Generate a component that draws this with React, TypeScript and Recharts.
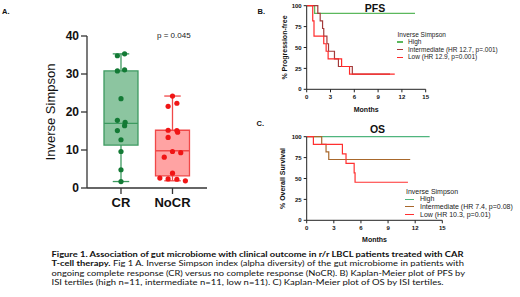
import React from 'react';
import {
  ScatterChart,
  Scatter,
  LineChart,
  Line,
  XAxis,
  YAxis,
  ReferenceArea,
  ReferenceLine,
  Legend,
  Label,
} from 'recharts';

const FONT = '"Liberation Sans", Arial, sans-serif';
const CAPTION_FONT = 'Lato, "Open Sans", sans-serif';

// ---- panel A: inverse Simpson by response ----
const groups = ['CR', 'NoCR'];
const crValues = [35.3, 34.8, 31.1, 30.8, 23.5, 17.8, 17.3, 16.4, 15.1, 12.7, 9.6, 4.8, 1.7];
const crJitter = [0.07, -0.07, 0.07, -0.07, 0, -0.07, 0.08, 0.07, -0.07, 0, 0, 0, 0];
const noCrValues = [24.2, 22.3, 21.5, 15.2, 15.1, 14.7, 13.3, 9.6, 9.3, 8.1, 3.9, 2.6, 2.4, 2.3, 1.9];
const noCrJitter = [0, 0.085, -0.085, -0.085, 0.085, 0.1, -0.085, 0, 0.16, -0.16, 0, -0.245, -0.085, 0.085, 0.25];
// min, q1, median, q3, max
const crBox = [1.7, 11.3, 17.0, 30.8, 35.3];
const noCrBox = [1.9, 3.2, 9.8, 15.2, 24.2];
const simpsonTicks = [0, 10, 20, 30, 40];
const pValue = 'p = 0.045';

// ---- panels B/C: Kaplan-Meier ----
const months = [0, 3, 6, 9, 12, 15];
const pctTicks = [0, 25, 50, 75, 100];
const legendTitle = 'Inverse Simpson';

const pfsHighT = [0, 1.0, 13.65];
const pfsHighS = [100, 90.9, 90.9];
const pfsMidT = [0, 1.4, 1.7, 2.0, 2.15, 2.55, 2.75, 3.5, 4.0, 5.75, 10.5];
const pfsMidS = [100, 90.9, 81.8, 72.7, 63.6, 54.5, 45.5, 36.4, 27.3, 18.2, 18.2];
const pfsLowT = [0, 0.76, 0.92, 2.15, 2.45, 2.7, 4.4, 5.4, 11.1];
const pfsLowS = [100, 81.8, 63.6, 54.5, 45.5, 36.4, 27.3, 18.2, 18.2];
const pfsNames = ['High', 'Intermediate (HR 12.7, p=.001)', 'Low (HR 12.9, p=0.001)'];

const osHighT = [0, 13.6];
const osHighS = [100, 100];
const osMidT = [0, 1.66, 2.14, 2.44, 11.45];
const osMidS = [100, 90.9, 81.8, 72.7, 72.7];
const osLowT = [0, 0.74, 3.95, 4.35, 5.25, 5.35, 11.2];
const osLowS = [100, 90.9, 79.5, 68.2, 56.8, 45.5, 45.5];
const osNames = ['High', 'Intermediate (HR 7.4, p=0.08)', 'Low (HR 10.3, p=0.01)'];

const captionLine1 =
  'Figure 1. Association of gut microbiome with clinical outcome in r/r LBCL patients treated with CAR';
const captionLine2Bold = 'T-cell therapy.';
const captionLine2 = ' Fig 1 A. Inverse Simpson index (alpha diversity) of the gut microbiome in patients with';
const captionLine3 =
  'ongoing complete response (CR) versus no complete response (NoCR). B) Kaplan-Meier plot of PFS by';
const captionLine4 =
  'ISI tertiles (high n=11, intermediate n=11, low n=11). C) Kaplan-Meier plot of OS by ISI tertiles.';

const zip = (t: number[], s: number[]) => t.map((v, i) => ({ t: v, s: s[i] }));
const points = (pos: number, vals: number[], jit: number[]) =>
  vals.map((y, i) => ({ x: pos + jit[i], y }));

const BOX_HALF = 0.33;
const CAP_HALF = 0.16;

function BoxMarks({ pos, box, fill, stroke }: { pos: number; box: number[]; fill: string; stroke: string }) {
  const [lo, q1, med, q3, hi] = box;
  return [
    <ReferenceArea
      key="box"
      x1={pos - BOX_HALF}
      x2={pos + BOX_HALF}
      y1={q1}
      y2={q3}
      fill={fill}
      fillOpacity={1}
      stroke={stroke}
      strokeWidth={1.3}
    />,
    <ReferenceLine key="med" segment={[{ x: pos - BOX_HALF, y: med }, { x: pos + BOX_HALF, y: med }]} stroke={stroke} strokeWidth={1.3} />,
    <ReferenceLine key="wu" segment={[{ x: pos, y: q3 }, { x: pos, y: hi }]} stroke={stroke} strokeWidth={1.3} />,
    <ReferenceLine key="wl" segment={[{ x: pos, y: lo }, { x: pos, y: q1 }]} stroke={stroke} strokeWidth={1.3} />,
    <ReferenceLine key="cu" segment={[{ x: pos - CAP_HALF, y: hi }, { x: pos + CAP_HALF, y: hi }]} stroke={stroke} strokeWidth={1.3} />,
    <ReferenceLine key="cl" segment={[{ x: pos - CAP_HALF, y: lo }, { x: pos + CAP_HALF, y: lo }]} stroke={stroke} strokeWidth={1.3} />,
  ];
}

function SimpsonPanel() {
  const axisStyle = { stroke: '#333', strokeWidth: 1.3 };
  return (
    <ScatterChart width={225} height={225} margin={{ top: 36, right: 18, bottom: 0, left: 0 }}>
      <XAxis
        type="number"
        dataKey="x"
        domain={[0.34, 2.67]}
        ticks={[1, 2]}
        tickFormatter={(v: number) => groups[v - 1]}
        tickSize={6}
        tickMargin={4}
        height={37}
        axisLine={axisStyle}
        tickLine={axisStyle}
        tick={{ fontSize: 13, fontWeight: 700, fill: '#111', fontFamily: FONT }}
        allowDataOverflow
      />
      <YAxis
        type="number"
        dataKey="y"
        domain={[0, 40]}
        ticks={simpsonTicks}
        width={87}
        tickSize={6}
        axisLine={axisStyle}
        tickLine={axisStyle}
        tick={{ fontSize: 12, fontWeight: 700, fill: '#111', fontFamily: FONT }}
      >
        <Label
          value="Inverse Simpson"
          angle={-90}
          position="insideLeft"
          offset={50}
          style={{ textAnchor: 'middle', fontSize: 13, fill: '#111', fontFamily: FONT }}
        />
      </YAxis>
      {BoxMarks({ pos: 1, box: crBox, fill: '#8cc5a0', stroke: '#3d9a60' })}
      {BoxMarks({ pos: 2, box: noCrBox, fill: '#ffa3a3', stroke: '#f04848' })}
      <Scatter
        data={points(1, crValues, crJitter)}
        fill="#137a35"
        isAnimationActive={false}
        shape={(p: any) => <circle cx={p.cx} cy={p.cy} r={2.6} fill="#137a35" />}
      />
      <Scatter
        data={points(2, noCrValues, noCrJitter)}
        fill="#f01515"
        isAnimationActive={false}
        shape={(p: any) => <circle cx={p.cx} cy={p.cy} r={2.6} fill="#f01515" />}
      />
    </ScatterChart>
  );
}

function KmLegend({ payload, fontSize, symbolW, gap, rowH }: any) {
  return (
    <div style={{ fontFamily: FONT, fontSize, color: '#222', lineHeight: `${rowH}px`, whiteSpace: 'nowrap' }}>
      <div style={{ paddingLeft: 1 }}>{legendTitle}</div>
      {(payload || []).map((p: any) => (
        <div key={p.value} style={{ display: 'flex', alignItems: 'center' }}>
          <span style={{ display: 'inline-block', width: symbolW, height: 1.2, background: p.color, marginRight: gap }} />
          {p.value}
        </div>
      ))}
    </div>
  );
}

type Series = { name: string; data: { t: number; s: number }[]; color: string };

function KmPanel({
  height,
  top,
  right,
  series,
  yLabel,
  legend,
}: {
  height: number;
  top: number;
  right: number;
  series: Series[];
  yLabel: { text: string; offset: number };
  legend: { left: number; top: number; fontSize: number; symbolW: number; gap: number; rowH: number };
}) {
  const tickStyle = { fontSize: 6, fontWeight: 700, fill: '#111', fontFamily: FONT };
  const axisStyle = { stroke: '#222', strokeWidth: 1 };
  return (
    <LineChart width={260} height={height} margin={{ top, right, bottom: 0, left: 0 }}>
      <XAxis
        type="number"
        dataKey="t"
        domain={[0, 15]}
        ticks={months}
        tickSize={3}
        height={height - top - 83.6}
        axisLine={axisStyle}
        tickLine={axisStyle}
        tick={tickStyle}
        allowDataOverflow
      >
        <Label
          value="Months"
          position="insideBottom"
          offset={3}
          style={{ fontSize: 7, fontWeight: 700, fill: '#111', fontFamily: FONT }}
        />
      </XAxis>
      <YAxis
        type="number"
        domain={[0, 100]}
        ticks={pctTicks}
        width={46.7}
        tickSize={3}
        axisLine={axisStyle}
        tickLine={axisStyle}
        tick={tickStyle}
      >
        <Label
          value={yLabel.text}
          angle={-90}
          position="insideLeft"
          offset={yLabel.offset}
          style={{ textAnchor: 'middle', fontSize: 7, fontWeight: 700, fill: '#111', fontFamily: FONT }}
        />
      </YAxis>
      {series.map((s) => (
        <Line
          key={s.name}
          name={s.name}
          data={s.data}
          dataKey="s"
          type="stepAfter"
          stroke={s.color}
          strokeWidth={1.2}
          dot={false}
          activeDot={false}
          isAnimationActive={false}
        />
      ))}
      <Legend
        layout="horizontal"
        verticalAlign="middle"
        align="center"
        wrapperStyle={{ left: legend.left, top: legend.top, width: 'auto' }}
        content={(props: any) => <KmLegend {...props} {...legend} />}
      />
    </LineChart>
  );
}

const pfsSeries: Series[] = [
  { name: pfsNames[0], data: zip(pfsHighT, pfsHighS), color: '#5bb85d' },
  { name: pfsNames[1], data: zip(pfsMidT, pfsMidS), color: '#a33a3a' },
  { name: pfsNames[2], data: zip(pfsLowT, pfsLowS), color: '#ff2a2a' },
];
const osSeries: Series[] = [
  { name: osNames[0], data: zip(osHighT, osHighS), color: '#4fb57e' },
  { name: osNames[1], data: zip(osMidT, osMidS), color: '#a8682c' },
  { name: osNames[2], data: zip(osLowT, osLowS), color: '#ff3030' },
];

const abs = (left: number, top: number): React.CSSProperties => ({ position: 'absolute', left, top });

export default function App() {
  const letter = { fontFamily: FONT, fontSize: 7.5, fontWeight: 700, color: '#111', lineHeight: 1 };
  const title = { fontFamily: FONT, fontSize: 10.5, fontWeight: 700, color: '#111', lineHeight: 1, transform: 'translateX(-50%)' };
  const cap = { fontFamily: CAPTION_FONT, fontSize: 7.7, fill: '#111' };
  return (
    <div style={{ position: 'absolute', left: 0, top: 0, width: 520, height: 297, background: '#fff', overflow: 'hidden' }}>
      <div style={abs(0, 0)}>
        <SimpsonPanel />
      </div>
      <div style={abs(260, 0)}>
        <KmPanel
          height={115}
          top={5.7}
          right={94.3}
          series={pfsSeries}
          yLabel={{ text: '% Progression-free', offset: 25 }}
          legend={{ left: 136.5, top: 30.7, fontSize: 6.5, symbolW: 6, gap: 5.5, rowH: 7.6 }}
        />
      </div>
      <div style={abs(260, 110)}>
        <KmPanel
          height={135}
          top={26.7}
          right={77.7}
          series={osSeries}
          yLabel={{ text: '% Overall Survival', offset: 22.7 }}
          legend={{ left: 145, top: 77.9, fontSize: 7, symbolW: 9, gap: 6, rowH: 7.6 }}
        />
      </div>
      <div style={{ ...abs(2, 8), ...letter }}>A.</div>
      <div style={{ ...abs(257.5, 7.5), ...letter }}>B.</div>
      <div style={{ ...abs(256.5, 120), ...letter }}>C.</div>
      <div style={{ ...abs(375, 3), ...title }}>PFS</div>
      <div style={{ ...abs(377.5, 123.5), ...title }}>OS</div>
      <div style={{ ...abs(157, 32), fontFamily: FONT, fontSize: 8, color: '#222', lineHeight: 1 }}>{pValue}</div>
      <svg width={520} height={52} style={{ position: 'absolute', left: 0, top: 245 }}>
        <text x={51.5} y={12} textLength={412} lengthAdjust="spacingAndGlyphs" style={{ ...cap, fontWeight: 700 }}>
          {captionLine1}
        </text>
        <text x={51.5} y={21.3} textLength={412.5} lengthAdjust="spacingAndGlyphs" style={cap}>
          <tspan style={{ fontWeight: 700 }}>{captionLine2Bold}</tspan>
          {captionLine2}
        </text>
        <text x={51.5} y={30.6} textLength={413.5} lengthAdjust="spacingAndGlyphs" style={cap}>
          {captionLine3}
        </text>
        <text x={51.5} y={39.6} textLength={392} lengthAdjust="spacingAndGlyphs" style={cap}>
          {captionLine4}
        </text>
      </svg>
    </div>
  );
}
